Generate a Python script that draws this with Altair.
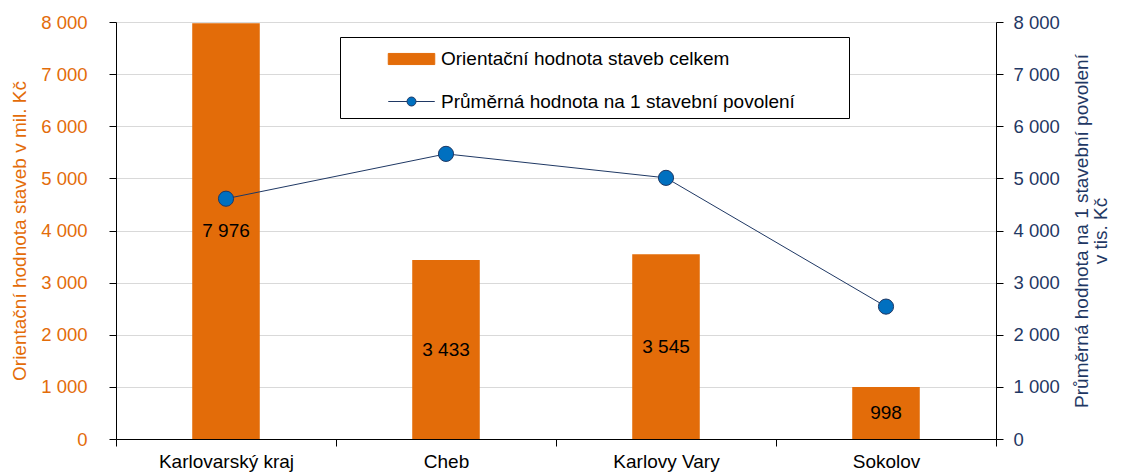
import altair as alt
import pandas as pd

categories = ["Karlovarský kraj", "Cheb", "Karlovy Vary", "Sokolov"]
total_values = [7976, 3433, 3545, 998]
avg_values = [4610, 5470, 5010, 2540]
bar_name = "Orientační hodnota staveb celkem"
line_name = "Průměrná hodnota na 1 stavební povolení"
series_names = [bar_name, line_name]
y_ticks = [0, 1000, 2000, 3000, 4000, 5000, 6000, 7000, 8000]
left_title = "Orientační hodnota staveb v mil. Kč"
right_title = ["Průměrná hodnota na 1 stavební povolení", "v tis. Kč"]

ORANGE = "#E36C09"
BLUE = "#0070C0"
NAVY = "#1F3864"
FONT = "Liberation Sans"
FS = 19
TICK_FS = 18.5

df = pd.DataFrame({
    "cat": categories,
    "total": total_values,
    "avg": avg_values,
})
legend_df = pd.DataFrame({"series": series_names})

num_fmt = "replace(format(datum.value, ','), ',', ' ')"
x_scale = alt.Scale(domain=categories, paddingInner=0, paddingOuter=0)
y_scale = alt.Scale(domain=[0, 8000], nice=False)

x_enc = alt.X("cat:N", scale=x_scale, sort=categories,
              axis=alt.Axis(title=None, labelAngle=0, tickBand="extent",
                            labelFontSize=FS, labelColor="black", labelFont=FONT,
                            domainColor="black", tickColor="black", tickSize=7,
                            labelPadding=6, grid=False))

left_axis = alt.Axis(values=y_ticks, labelExpr=num_fmt, title=left_title,
                     labelColor=ORANGE, titleColor=ORANGE, labelFontSize=TICK_FS,
                     titleFontSize=FS, titleFontWeight="normal", labelFont=FONT,
                     titleFont=FONT, domainColor="black", tickColor="black",
                     tickSize=7, grid=True, gridColor="#D9D9D9", labelPadding=22,
                     titlePadding=11.5)

right_axis = alt.Axis(values=y_ticks, labelExpr=num_fmt, title=right_title, orient="right",
                      labelColor=NAVY, titleColor=NAVY, labelFontSize=TICK_FS, titleFontSize=FS,
                      titleFontWeight="normal", labelFont=FONT, titleFont=FONT,
                      titleLineHeight=19,
                      domainColor="black", tickColor="black", tickSize=7, grid=False,
                      labelPadding=10, titlePadding=13, titleAngle=270)

base = alt.Chart(df)

bars = base.mark_bar(color=ORANGE, width=alt.RelativeBandSize(0.307)).encode(
    x=x_enc,
    y=alt.Y("total:Q", scale=y_scale, axis=left_axis),
)

labels = base.transform_calculate(
    mid="datum.total / 2",
    lab="replace(format(datum.total, ','), ',', ' ')",
).mark_text(fontSize=FS, color="black", font=FONT).encode(
    x=x_enc,
    y=alt.Y("mid:Q", scale=y_scale, axis=left_axis),
    text="lab:N",
)

bar_path = "M-1.55,-0.37H1.55V0.37H-1.55Z M28.6,0"
line_path = "M-1.55,0H-0.3M0.3,0H1.55M-0.3,0A0.3,0.3 0 1,1 0.3,0A0.3,0.3 0 1,1 -0.3,0Z M28.6,0"

legend = alt.Legend(
    orient="none", legendX=224, legendY=15, strokeColor="black", fillColor="white",
    padding=6.5, symbolSize=900, symbolOffset=49.5, labelOffset=14, rowPadding=16.5,
    labelFontSize=FS, labelColor="black", labelFont=FONT, labelLimit=800,
    symbolStrokeWidth=1, symbolOpacity=1,
)

line = base.mark_line(color=NAVY, strokeWidth=1).encode(
    x=x_enc,
    y=alt.Y("avg:Q", scale=y_scale, axis=right_axis),
)

points = base.mark_point(filled=True, size=230, fill=BLUE, stroke=NAVY, strokeWidth=1,
                         opacity=1).encode(
    x=x_enc,
    y=alt.Y("avg:Q", scale=y_scale, axis=right_axis),
)

legend_layer = alt.Chart(legend_df).transform_filter("false").mark_point(
    filled=True, strokeWidth=1, opacity=1
).encode(
    shape=alt.Shape("series:N", title=None,
                    scale=alt.Scale(domain=series_names, range=[bar_path, line_path]),
                    legend=legend),
    fill=alt.Fill("series:N", title=None,
                  scale=alt.Scale(domain=series_names, range=[ORANGE, BLUE]),
                  legend=legend),
    stroke=alt.Stroke("series:N", title=None,
                      scale=alt.Scale(domain=series_names, range=[ORANGE, NAVY]),
                      legend=legend),
)

left = alt.layer(bars, labels)
right = alt.layer(line, points, legend_layer)

chart = alt.layer(left, right).resolve_scale(y="independent").properties(
    width=880, height=417,
    autosize=alt.AutoSizeParams(type="none"),
    padding={"left": 108, "top": 14, "right": 118, "bottom": 34},
).configure_view(stroke=None)

chart.save("out.html", embed_options={"renderer": "svg", "actions": False})
